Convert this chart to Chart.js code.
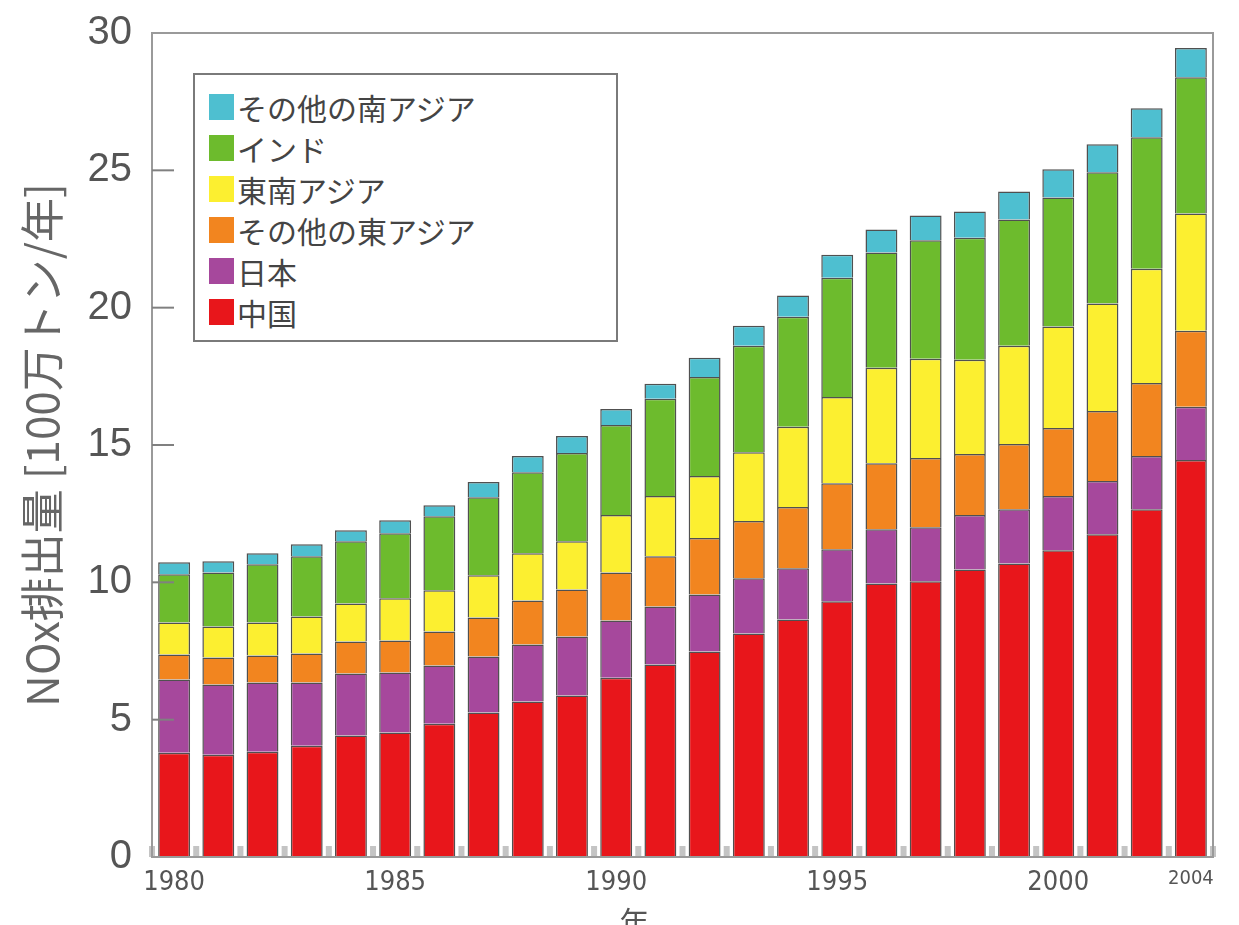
<!DOCTYPE html>
<html lang="ja">
<head>
<meta charset="utf-8">
<script src="https://cdn.jsdelivr.net/npm/chart.js@4.4.1/dist/chart.umd.min.js"></script>
<style>
  html, body { margin: 0; padding: 0; background: #fff; overflow: hidden; }
  #wrap { position: relative; width: 1239px; height: 950px; }
  #legend {
    position: absolute; left: 193px; top: 73px; width: 421px; height: 254px;
    padding-top: 11px; border: 2px solid #7a7a7a; background: #fff;
    font-family: 'Noto Sans CJK JP', sans-serif; font-size: 30px; color: #444;
  }
  .item { display: flex; align-items: center; height: 41px; }
  .sw { width: 25px; height: 26px; margin-left: 14px; margin-right: 3px; }
</style>
</head>
<body>
<div id="wrap">
  <canvas id="chart" width="1239" height="950"></canvas>
  <div id="legend"></div>
</div>
<script>
// データ（100万トン/年）
const years = ["1980","1981","1982","1983","1984","1985","1986","1987","1988","1989","1990","1991",
               "1992","1993","1994","1995","1996","1997","1998","1999","2000","2001","2002","2003"];
const xTickLabels = ["1980","","","","","1985","","","","","1990","","","","","1995","","","","","2000","","","2004"];
const yTicks = [0, 5, 10, 15, 20, 25, 30];

const china          = [3.80,3.72,3.83,4.05,4.42,4.53,4.85,5.26,5.66,5.88,6.53,7.01,7.48,8.14,8.65,9.31,9.96,10.04,10.47,10.69,11.17,11.75,12.66,14.45];
const japan          = [2.66,2.56,2.52,2.30,2.26,2.19,2.12,2.04,2.08,2.15,2.08,2.11,2.08,2.01,1.86,1.89,1.97,1.97,1.98,1.97,1.97,1.94,1.94,1.94];
const otherEastAsia  = [0.91,0.98,0.99,1.06,1.17,1.16,1.24,1.42,1.60,1.71,1.75,1.83,2.05,2.08,2.23,2.41,2.41,2.52,2.22,2.38,2.48,2.55,2.66,2.77];
const southeastAsia  = [1.17,1.13,1.20,1.35,1.38,1.54,1.50,1.54,1.72,1.76,2.09,2.19,2.26,2.51,2.92,3.14,3.47,3.61,3.43,3.57,3.69,3.91,4.16,4.27];
const india          = [1.75,1.97,2.12,2.19,2.27,2.37,2.70,2.84,2.95,3.21,3.28,3.54,3.61,3.87,4.01,4.34,4.20,4.31,4.45,4.60,4.70,4.78,4.78,4.96];
const otherSouthAsia = [0.44,0.41,0.40,0.44,0.40,0.47,0.40,0.55,0.59,0.62,0.58,0.55,0.70,0.73,0.77,0.84,0.84,0.91,0.95,1.02,1.03,1.02,1.06,1.06];

const seriesNames  = ["中国", "日本", "その他の東アジア", "東南アジア", "インド", "その他の南アジア"];
const seriesData   = [china, japan, otherEastAsia, southeastAsia, india, otherSouthAsia];
const seriesColors = ["#e8161b", "#a6489c", "#f2851f", "#fcef30", "#6dbb2d", "#4ebfd0"];

const tickFont = "'Liberation Sans Narrow', 'DejaVu Sans Condensed', 'Liberation Sans', sans-serif";

// 枠と内向きの目盛り
const framePlugin = {
  id: "frame",
  beforeDatasetsDraw(chart) {
    const { ctx, chartArea: a, scales: { x } } = chart;
    const step = x.getPixelForValue(1) - x.getPixelForValue(0);
    ctx.save();
    ctx.fillStyle = "#c4c4c4";
    for (let i = 0; i <= years.length; i++) {
      const px = x.getPixelForValue(0) + (i - 0.5) * step;
      ctx.fillRect(px - 3, a.bottom - 11, 6, 11);
    }
    ctx.restore();
  },
  afterDraw(chart) {
    const { ctx, chartArea: a, scales: { y } } = chart;
    ctx.save();
    ctx.strokeStyle = "#9a9a9a";
    ctx.lineWidth = 2;
    ctx.strokeRect(a.left, a.top, a.right - a.left, a.bottom - a.top);
    ctx.strokeStyle = "#808080";
    yTicks.slice(1, -1).forEach(function (v) {
      const py = y.getPixelForValue(v);
      ctx.beginPath();
      ctx.moveTo(a.left, py);
      ctx.lineTo(a.left + 22, py);
      ctx.stroke();
    });
    ctx.restore();
  }
};

const ctx = document.getElementById("chart").getContext("2d");
const chart = new Chart(ctx, {
  type: "bar",
  data: {
    labels: years,
    datasets: seriesNames.map(function (name, i) {
      return {
        label: name,
        data: seriesData[i],
        backgroundColor: seriesColors[i],
        borderColor: "#505050",
        borderWidth: 1.5,
        barPercentage: 0.82,
        categoryPercentage: 0.88,
      };
    }),
  },
  options: {
    responsive: false,
    animation: false,
    layout: { padding: { top: 33, right: 26, left: 0, bottom: 0 } },
    plugins: { legend: { display: false }, tooltip: { enabled: false } },
    scales: {
      x: {
        stacked: true,
        grid: { display: false, drawTicks: false },
        border: { display: false },
        ticks: {
          autoSkip: false,
          maxRotation: 0,
          padding: 10,
          color: "#555",
          font: function (c) { return { family: tickFont, size: c.index === years.length - 1 ? 20 : 27 }; },
          callback: function (v, i) { return xTickLabels[i]; },
        },
        title: {
          display: true,
          text: "年\u3000\u3000\u3000 ",
          color: "#555",
          font: { family: "'Noto Sans CJK JP', sans-serif", size: 30 },
          padding: { top: 8, bottom: 10 },
        },
        afterFit: function (s) { s.height = 93; },
      },
      y: {
        stacked: true,
        min: 0,
        max: 30,
        grid: { display: false, drawTicks: true, tickLength: 20 },
        border: { display: false },
        afterBuildTicks: function (s) { s.ticks = yTicks.map(function (v) { return { value: v }; }); },
        ticks: {
          padding: 0,
          color: "#555",
          font: { family: "'Liberation Sans', Arial, sans-serif", size: 40 },
        },
        title: {
          display: true,
          text: "NOx排出量 [100万トン/年]",
          color: "#666",
          font: { family: "'Noto Sans CJK JP', sans-serif", size: 44 },
          padding: { top: 16, bottom: 0 },
        },
        afterFit: function (s) { s.width = 152; },
      },
    },
  },
  plugins: [framePlugin],
});

// 凡例（上から南アジア→中国）
const legend = document.getElementById("legend");
chart.data.datasets.slice().reverse().forEach(function (ds) {
  const item = document.createElement("div");
  item.className = "item";
  item.innerHTML = '<span class="sw" style="background:' + ds.backgroundColor + '"></span><span>' + ds.label + "</span>";
  legend.appendChild(item);
});
</script>
</body>
</html>
